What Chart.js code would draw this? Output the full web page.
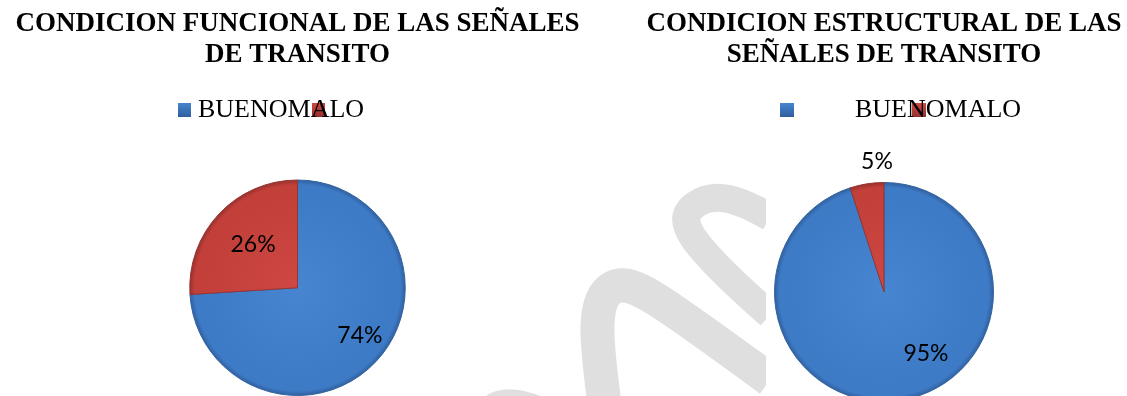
<!DOCTYPE html>
<html>
<head>
<meta charset="utf-8">
<script src="https://cdn.jsdelivr.net/npm/chart.js@4.4.1/dist/chart.umd.min.js"></script>
<style>
html, body { margin:0; padding:0; background:#fff; overflow:hidden; width:1127px; height:396px; }
#wm { position:absolute; left:0; top:0; }
.box { position:absolute; top:0; }
</style>
</head>
<body>
<svg id="wm" width="766" height="396" viewBox="0 0 766 396">
  <g fill="none" stroke="#dfdfdf" stroke-linecap="butt">
    <path d="M 604 400 C 596 340, 592 300, 612 288 C 630 278, 650 292, 770 380" stroke-width="34"/>
    <path d="M 770 217 C 740 200, 715 190, 695 205 C 675 220, 685 240, 770 315" stroke-width="28"/>
  </g>
  <path d="M 486 396 C 495 389, 515 386, 540 396 Z" fill="#dfdfdf"/>
</svg>
<div class="box" style="left:0;width:595px;height:396px"><canvas id="c1" width="595" height="396"></canvas></div>
<div class="box" style="left:641px;width:486px;height:402px"><canvas id="c2" width="486" height="402"></canvas></div>
<script>
// ---- data ----
const categories = ['BUENO', 'MALO'];
const funcionalValues = [74, 26];
const estructuralValues = [95, 5];
const funcionalTitle = ['CONDICION FUNCIONAL DE LAS SEÑALES', 'DE TRANSITO'];
const estructuralTitle = ['CONDICION ESTRUCTURAL DE LAS', 'SEÑALES DE TRANSITO'];

// ---- styles ----
const SERIF = '"Liberation Serif", "Times New Roman", serif';
const palette = [
  { c0: '#4785d0', c1: '#3e7bc6', c2: '#2f5e9d', border: '#33639f' },
  { c0: '#cf4843', c1: '#c23f3a', c2: '#94302c', border: '#963431' }
];

function sliceFill(ctx) {
  const chart = ctx.chart;
  const a = chart.chartArea;
  const p = palette[ctx.dataIndex % palette.length];
  if (!a) return p.c1;
  const cx = (a.left + a.right) / 2, cy = (a.top + a.bottom) / 2;
  const r = Math.min(a.right - a.left, a.bottom - a.top) / 2;
  const g = chart.ctx.createRadialGradient(cx, cy, 0, cx, cy, r);
  g.addColorStop(0, p.c0);
  g.addColorStop(0.85, p.c1);
  g.addColorStop(0.95, p.c1);
  g.addColorStop(1, p.c2);
  return g;
}

const legendPlugin = {
  id: 'overlapLegend',
  afterDraw(chart, args, opts) {
    const ctx = chart.ctx;
    ctx.save();
    const labels = chart.data.labels;
    labels.forEach((l, i) => {
      const p = palette[i];
      const bx = opts.boxX[i], by = opts.boxY, bw = opts.boxW, bh = opts.boxH;
      const g = ctx.createLinearGradient(bx, by, bx, by + bh);
      g.addColorStop(0, p.c0);
      g.addColorStop(1, p.c2);
      ctx.fillStyle = g;
      ctx.fillRect(bx, by, bw, bh);
    });
    ctx.font = opts.fontSize + 'px ' + SERIF;
    ctx.fillStyle = '#000';
    ctx.textBaseline = 'alphabetic';
    ctx.textAlign = 'left';
    let x = opts.textX;
    labels.forEach(l => {
      ctx.fillText(l, x, opts.baseline);
      x += ctx.measureText(l).width;
    });
    ctx.restore();
  }
};

const pctLabelPlugin = {
  id: 'pctLabels',
  afterDatasetsDraw(chart, args, opts) {
    const ctx = chart.ctx;
    const meta = chart.getDatasetMeta(0);
    const vals = chart.data.datasets[0].data;
    const total = vals.reduce((s, v) => s + v, 0);
    ctx.save();
    ctx.font = opts.fontSize + 'px Lato, "Open Sans", sans-serif';
    ctx.fillStyle = '#000';
    ctx.textAlign = 'center';
    ctx.textBaseline = 'middle';
    meta.data.forEach((arc, i) => {
      const pl = opts.place[i];
      const mid = (arc.startAngle + arc.endAngle) / 2 + pl.shift * Math.PI / 180;
      const r = arc.outerRadius * pl.r;
      const x = arc.x + Math.cos(mid) * r;
      const y = arc.y + Math.sin(mid) * r;
      ctx.fillText(Math.round(vals[i] / total * 100) + '%', x, y);
    });
    ctx.restore();
  }
};

function makePie(id, values, title, titlePadBottom, legendOpts, place) {
  return new Chart(document.getElementById(id), {
    type: 'pie',
    data: {
      labels: categories,
      datasets: [{
        data: values,
        backgroundColor: sliceFill,
        borderColor: palette.map(p => p.border),
        borderWidth: 1
      }]
    },
    options: {
      responsive: false,
      animation: false,
      layout: { padding: 0 },
      plugins: {
        legend: { display: false },
        tooltip: { enabled: false },
        title: {
          display: true,
          text: title,
          color: '#000',
          font: { family: SERIF, size: 27, weight: 'bold', lineHeight: 31 / 27 },
          padding: { top: 8.5, bottom: titlePadBottom }
        },
        overlapLegend: legendOpts,
        pctLabels: { fontSize: 23, place: place }
      }
    },
    plugins: [legendPlugin, pctLabelPlugin]
  });
}

makePie('c1', funcionalValues, funcionalTitle, 109,
  { boxX: [178, 312], boxY: 103, boxW: 13, boxH: 14, textX: 198, baseline: 117, fontSize: 26 },
  [{ r: 0.727, shift: -6 }, { r: 0.573, shift: 0.7 }]);

makePie('c2', estructuralValues, estructuralTitle, 111.5,
  { boxX: [139, 271], boxY: 103, boxW: 14, boxH: 14, textX: 214, baseline: 117, fontSize: 26 },
  [{ r: 0.677, shift: -25.5 }, { r: 1.189, shift: 5.9 }]);
</script>
</body>
</html>
